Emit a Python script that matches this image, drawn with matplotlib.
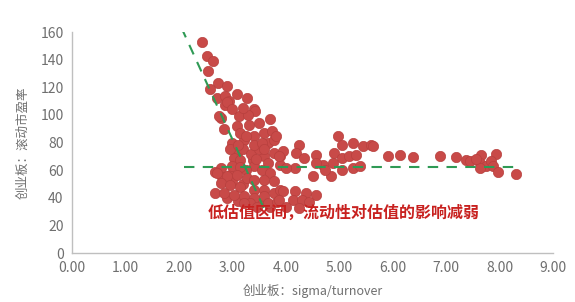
import numpy as np
import matplotlib
matplotlib.use('Agg')
import matplotlib.pyplot as plt

plt.rcParams['font.family'] = ['Noto Sans CJK SC', 'DejaVu Sans']

# scatter points: sigma/turnover vs rolling PE
sigma_turnover = [2.44, 2.52, 2.64, 2.54, 2.73, 2.91, 2.59, 3.09, 3.28, 2.72, 2.87, 2.94, 2.87, 3.41,
                  2.91, 2.78, 3.43, 3.13, 3.71, 3.09, 3.31, 3.50, 3.59, 3.41, 3.75, 3.22, 3.15, 3.66,
                  3.78, 3.78, 3.59, 3.09, 3.03, 3.90, 3.90, 3.38, 3.41, 2.78, 2.68, 2.96, 3.66, 3.15,
                  3.00, 2.95, 2.75, 3.20, 3.35, 3.50, 3.00, 3.25, 3.55, 3.70,
                  3.10, 3.25, 3.40, 3.55, 3.30, 3.20, 3.00, 2.85, 3.45, 3.60, 3.15,
                  2.80, 3.00, 3.20, 3.40, 3.60, 3.50, 3.10, 2.90, 3.70,
                  2.72, 2.91, 3.09, 3.28, 3.41, 3.59, 3.78, 2.78, 2.96, 3.15, 2.68, 2.84, 3.03, 3.22,
                  3.41, 3.59, 3.78, 3.90, 3.66, 3.84, 3.34, 3.22, 3.47, 3.94, 4.18, 4.37, 4.56, 3.88,
                  4.13, 4.31, 4.25, 4.00,
                  4.44,
                  3.81, 3.94, 3.88, 4.25, 4.19, 4.34, 4.56, 4.69, 4.50, 4.56, 4.97, 5.06, 5.25, 5.44,
                  5.59, 4.91, 5.06, 5.19, 5.31, 4.88, 5.06, 5.25, 4.84, 4.18, 4.00, 4.74, 5.38,
                  5.63, 5.91, 6.14, 6.38, 6.88, 7.19, 7.37, 7.44, 7.66, 7.94, 7.63, 7.75, 7.84, 7.88,
                  7.97, 7.63, 8.31, 7.56]
pe_ttm = [153, 143, 139, 132, 123, 121, 118.5, 115, 112, 112.5, 113.7, 110, 107, 104,
          109, 98, 103, 99, 96.7, 92, 93, 94, 87, 84.6, 88, 82, 87, 80,
          82, 72.7, 70, 72.7, 69, 70, 64, 67.6, 62.8, 61.8, 59, 56.7, 65.5, 67.6,
          80, 75, 99, 75, 72, 75, 63, 60, 60, 58,
          78, 85, 78, 80, 100, 105, 104, 90, 68, 75, 62,
          55, 52, 50, 46, 46, 38, 38, 40, 33,
          58, 55.5, 56.7, 54.5, 53, 53, 52, 51, 49.5, 48, 43.6, 43.6, 42, 41,
          40, 41, 43.6, 45.8, 36.4, 37.3, 36.4, 36.4, 33.7, 44.6, 44.6, 43.6, 42, 38.5,
          38.5, 38.5, 32.7, 33.7,
          37.3,
          84.6, 73.7, 70, 78.5, 72.5, 68.9, 71.3, 64, 55.5, 65.5, 84.6, 78.5, 80, 77.3,
          78.5, 72.5, 68.9, 70, 71.3, 65.2, 60.4, 61.8, 55.5, 61.8, 61.8, 60.4, 62.8,
          77.8, 70.5, 71.3, 69.6, 70, 69.6, 67.6, 66.4, 71.3, 72, 65.2, 62.8, 66.4, 62.8,
          59, 61.6, 57.2, 68.4]

# guide lines
steep_x = [2.05, 3.62]
steep_y = [163, 30]
flat_x = [2.1, 8.4]
flat_y = [62, 62]

xticks = np.arange(0, 10, 1)
yticks = np.arange(0, 161, 20)

fig = plt.figure(figsize=(5.75, 3.02), dpi=100)
ax = fig.add_axes([0.125, 0.162, 0.837, 0.732])

ax.scatter(sigma_turnover, pe_ttm, s=55, color='#c84a48', edgecolors='#b8403e', linewidths=0.5, zorder=2)
ax.plot(steep_x, steep_y, color='#2f9a55', lw=1.5, ls=(0, (5, 4)), zorder=3)
ax.plot(flat_x, flat_y, color='#2f9a55', lw=1.5, ls=(0, (5, 4)), zorder=3)

ax.text(2.53, 29, '低估值区间，流动性对估值的影响减弱', color='#c8211f', fontsize=11.5,
        fontweight='bold', va='center', ha='left', zorder=4)

ax.set_xlim(0, 9)
ax.set_ylim(0, 160)
ax.set_xticks(xticks)
ax.set_xticklabels(['%.2f' % v for v in xticks])
ax.set_yticks(yticks)
ax.tick_params(length=0, labelsize=10, labelcolor='#6f6f6f', pad=6)

for s in ['top', 'right']:
    ax.spines[s].set_visible(False)
for s in ['left', 'bottom']:
    ax.spines[s].set_color('#bfbfbf')
    ax.spines[s].set_linewidth(1)

ax.set_xlabel('创业板：sigma/turnover', fontsize=9, color='#6f6f6f', labelpad=6)
ax.set_ylabel('创业板：滚动市盈率', fontsize=9, color='#6f6f6f', labelpad=8)

plt.savefig('out.png', dpi=100)
